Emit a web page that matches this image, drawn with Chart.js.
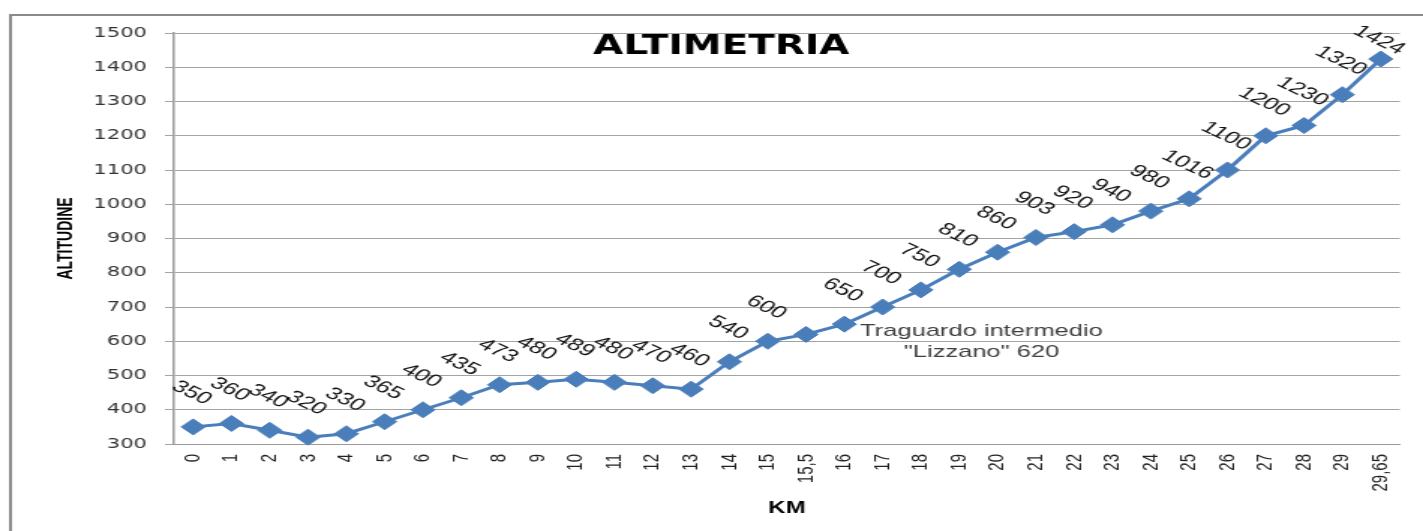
<!DOCTYPE html>
<html>
<head>
<meta charset="utf-8">
<script src="https://cdn.jsdelivr.net/npm/chart.js@4"></script>
<style>
  html, body { margin: 0; padding: 0; background: #ffffff; overflow: hidden; }
  #wrap { width: 949px; height: 531px; transform: scaleX(1.49947); transform-origin: 0 0; }
  #c { display: block; }
</style>
</head>
<body>
<div id="wrap"><canvas id="c" width="949" height="531" style="width:949px;height:531px"></canvas></div>
<script>
// ---- data ----
const km = ['0','1','2','3','4','5','6','7','8','9','10','11','12','13','14','15','15,5',
            '16','17','18','19','20','21','22','23','24','25','26','27','28','29','29,65'];
const altitude = [350,360,340,320,330,365,400,435,473,480,489,480,470,460,540,600,620,
                  650,700,750,810,860,903,920,940,980,1016,1100,1200,1230,1320,1424];
const pointLabels = altitude.map(v => String(v));
pointLabels[16] = null; // replaced by the annotation below
const annotationIndex = 16;
const annotationLines = ['Traguardo intermedio', '"Lizzano" 620'];
const yTicks = { min: 300, max: 1500, step: 100 };
const chartTitle = 'ALTIMETRIA';
const xTitle = 'KM';
const yTitle = 'ALTITUDINE';

const blue = '#4A7EBB';

const decorPlugin = {
  id: 'decor',
  beforeDraw(chart) {
    const ctx = chart.ctx;
    ctx.save();
    ctx.strokeStyle = '#8a8a8a';
    ctx.lineWidth = 2;
    ctx.strokeRect(7, 15, chart.width + 20, chart.height + 20);
    ctx.restore();
  },
  afterDatasetsDraw(chart) {
    const ctx = chart.ctx;
    const meta = chart.getDatasetMeta(0);
    const area = chart.chartArea;
    ctx.save();
    // title
    ctx.fillStyle = '#000';
    ctx.font = 'bold 26px "DejaVu Sans", sans-serif';
    ctx.textAlign = 'center';
    ctx.textBaseline = 'middle';
    ctx.fillText(chartTitle, 481, 47);

    // data labels
    ctx.font = '17px "Liberation Sans", Arial, sans-serif';
    ctx.fillStyle = '#111';
    meta.data.forEach((pt, i) => {
      const txt = pointLabels[i];
      if (!txt) return;
      const cx = pt.x - 1;
      const cy = Math.max(pt.y - 34, area.top + 7);
      ctx.save();
      ctx.translate(cx, cy);
      ctx.rotate(35 * Math.PI / 180);
      ctx.textAlign = 'center';
      ctx.textBaseline = 'middle';
      ctx.fillText(txt, 0, 0);
      ctx.restore();
    });

    // annotation for intermediate finish
    const ap = meta.data[annotationIndex];
    ctx.font = '17px "Liberation Sans", Arial, sans-serif';
    ctx.fillStyle = '#404040';
    ctx.textAlign = 'center';
    ctx.textBaseline = 'middle';
    ctx.fillText(annotationLines[0], ap.x + 117, ap.y - 3);
    ctx.fillText(annotationLines[1], ap.x + 117, ap.y + 18);
    ctx.restore();
  }
};

new Chart(document.getElementById('c'), {
  type: 'line',
  data: {
    labels: km,
    datasets: [{
      data: altitude,
      borderColor: blue,
      backgroundColor: blue,
      borderWidth: 3,
      tension: 0,
      pointStyle: 'rectRot',
      pointRadius: 8,
      pointBorderWidth: 1,
      pointBackgroundColor: blue,
      pointBorderColor: blue,
      clip: false
    }]
  },
  options: {
    responsive: false,
    animation: false,
    devicePixelRatio: 1,
    layout: { padding: { left: 0, top: 33, right: 14, bottom: 0 } },
    plugins: {
      legend: { display: false },
      title: { display: false },
      tooltip: { enabled: false }
    },
    scales: {
      x: {
        type: 'category',
        offset: true,
        grid: { display: false, drawTicks: false },
        border: { display: true, color: '#9a9a9a', width: 1 },
        ticks: {
          minRotation: 90, maxRotation: 90, autoSkip: false, padding: 10,
          color: '#222',
          font: { family: '"Liberation Sans", Arial, sans-serif', size: 15 }
        },
        title: {
          display: true, text: xTitle, color: '#000',
          font: { family: '"Liberation Sans", Arial, sans-serif', size: 16, weight: 'bold' },
          padding: { top: 0, bottom: 13 }
        },
        afterFit(scale) { scale.height = 87; }
      },
      y: {
        min: yTicks.min, max: yTicks.max,
        grid: { color: '#a3a3a3', lineWidth: 1, tickLength: 6, tickColor: '#a3a3a3' },
        border: { display: true, color: '#9a9a9a', width: 1.5 },
        ticks: {
          stepSize: yTicks.step, padding: 12, color: '#333',
          font: { family: '"DejaVu Sans", sans-serif', size: 14 },
          callback: (v) => String(v)
        },
        title: {
          display: true, text: yTitle, color: '#000',
          font: { family: '"Liberation Sans", Arial, sans-serif', size: 14, weight: 'bold' },
          padding: { top: 36, bottom: 0 }
        },
        afterFit(scale) { scale.width = 116; }
      }
    }
  },
  plugins: [decorPlugin]
});
</script>
</body>
</html>
